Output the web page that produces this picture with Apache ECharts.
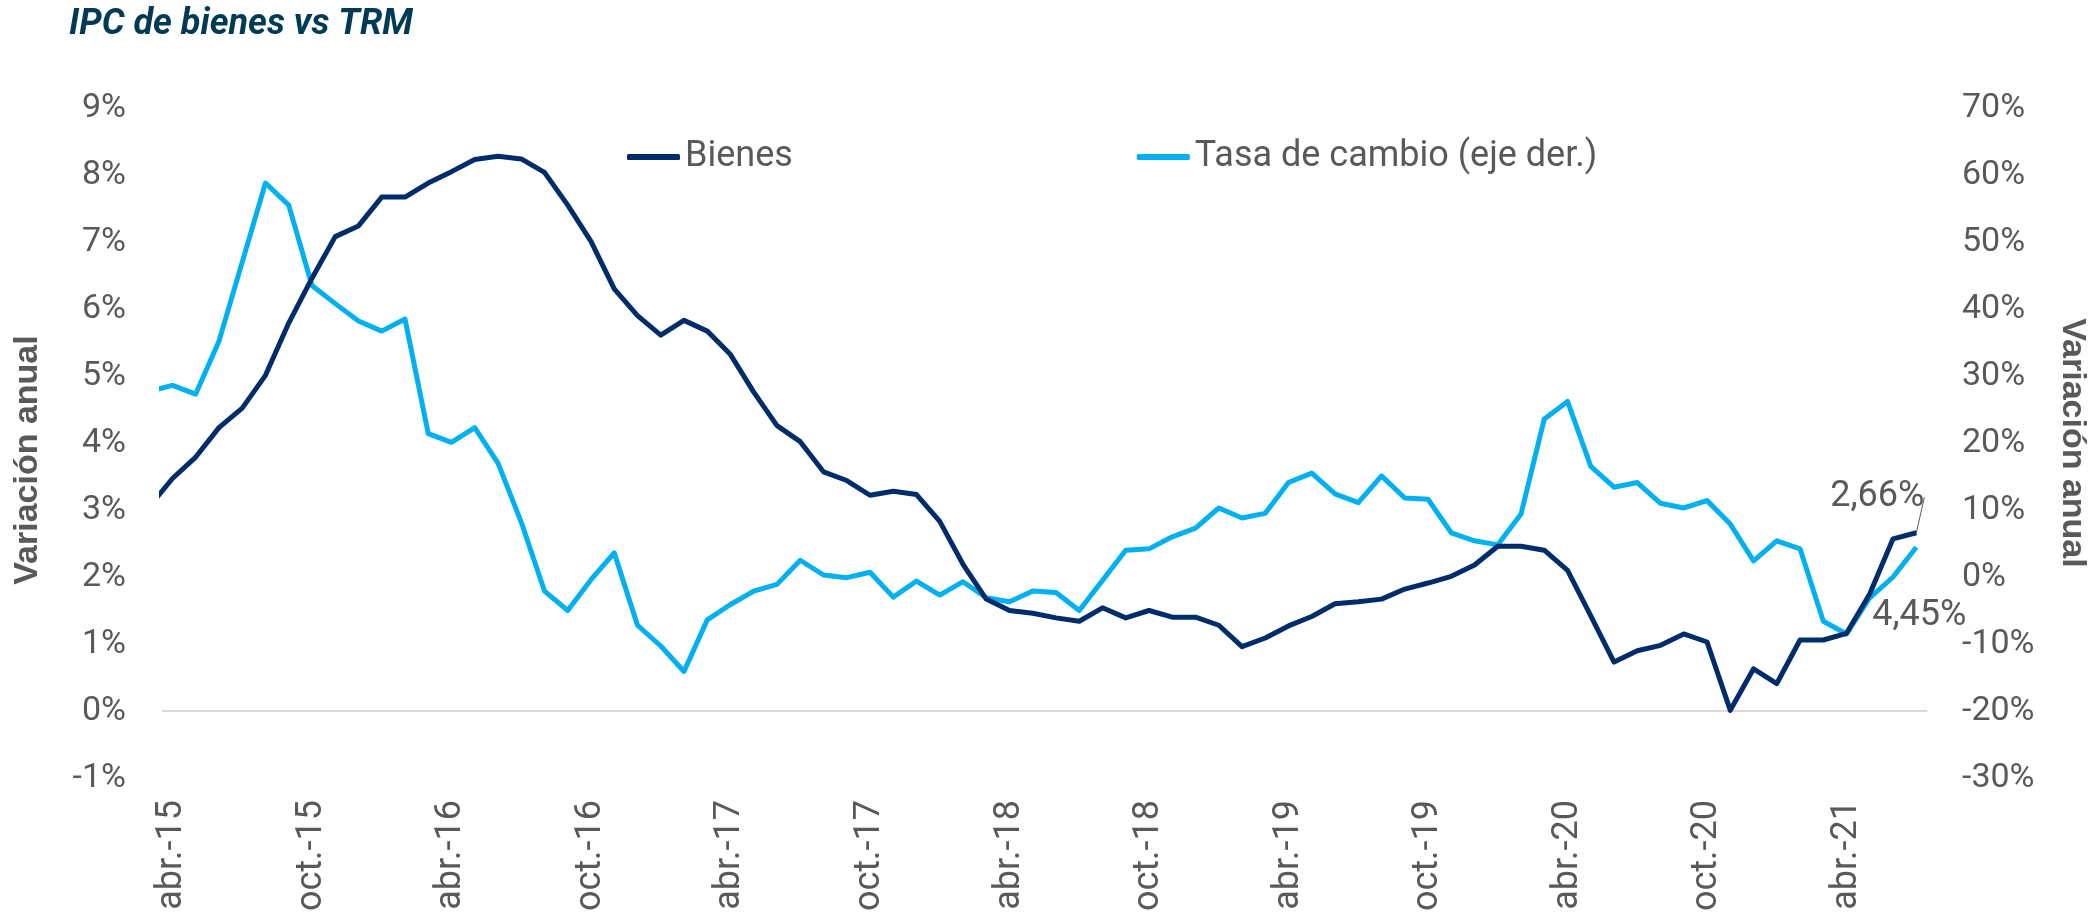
<!DOCTYPE html>
<html>
<head>
<meta charset="utf-8">
<script src="https://cdn.jsdelivr.net/npm/echarts@6/dist/echarts.min.js"></script>
<style>
  html, body { margin: 0; padding: 0; background: #ffffff; }
  #chart { width: 2100px; height: 922px; }
</style>
</head>
<body>
<div id="chart"></div>
<script>
// Months from mar.-15 (partially outside the plot) to jul.-21
const monthNames = ['ene.', 'feb.', 'mar.', 'abr.', 'may.', 'jun.', 'jul.', 'ago.', 'sep.', 'oct.', 'nov.', 'dic.'];
const categories = [];
for (let i = 0; i < 77; i++) {
  const mi = (2 + i) % 12;
  const yr = 15 + Math.floor((2 + i) / 12);
  categories.push(monthNames[mi] + '-' + yr);
}
// Indices (into categories) that carry a tick label
const tickIdx = [1, 7, 13, 19, 25, 31, 37, 43, 49, 55, 61, 67, 73];

// IPC de bienes, variación anual (%), left axis
const bienes = [
  3.05, 3.47, 3.79, 4.23, 4.52, 5.01, 5.79, 6.46, 7.08, 7.24, 7.67, 7.67, 7.88,
  8.05, 8.23, 8.28, 8.24, 8.04, 7.55, 7.01, 6.30, 5.90, 5.61, 5.83, 5.67,
  5.32, 4.76, 4.26, 4.02, 3.57, 3.44, 3.22, 3.28, 3.23, 2.83, 2.19, 1.67,
  1.50, 1.46, 1.39, 1.34, 1.54, 1.39, 1.50, 1.40, 1.40, 1.28, 0.96, 1.09,
  1.27, 1.41, 1.60, 1.63, 1.67, 1.82, 1.91, 2.01, 2.18, 2.46, 2.46, 2.40,
  2.10, 1.42, 0.73, 0.90, 0.98, 1.15, 1.03, 0.01, 0.63, 0.41, 1.06, 1.06,
  1.16, 1.75, 2.57, 2.66
];
// Tasa de cambio (TRM), variación anual (%), right axis
const trm = [
  27.7, 28.6, 27.3, 35.2, 47.0, 58.8, 55.5, 43.5, 40.8, 38.2, 36.7, 38.5, 21.4,
  20.1, 22.3, 17.0, 8.2, -2.1, -5.0, -0.4, 3.6, -7.2, -10.3, -14.1, -6.4,
  -4.1, -2.1, -1.1, 2.5, 0.3, -0.1, 0.7, -3.0, -0.6, -2.7, -0.7, -3.1,
  -3.7, -2.1, -2.3, -5.0, -0.5, 4.0, 4.2, 6.0, 7.3, 10.3, 8.8, 9.5,
  14.1, 15.5, 12.4, 11.1, 15.1, 11.8, 11.6, 6.6, 5.4, 4.8, 9.4, 23.6,
  26.2, 16.5, 13.4, 14.1, 11.0, 10.3, 11.4, 7.9, 2.4, 5.4, 4.2, -6.6,
  -8.5, -3.1, 0.0, 4.45
];
const leftTicks = { min: -1, max: 9, step: 1 };
const rightTicks = { min: -30, max: 70, step: 10 };
const lastLabels = { bienes: '2,66%', trm: '4,45%' };

const GRAY = '#595959';
const NAVY = '#002D6A';
const CYAN = '#00B0F0';

function buildData(arr, labelText, labelOpts) {
  const last = arr.length - 1;
  return arr.map((v, i) => {
    if (i !== last) return [i, v];
    return {
      value: [i, v],
      symbol: 'circle',
      symbolSize: 1,
      label: Object.assign({
        show: true,
        formatter: labelText,
        fontFamily: 'Roboto',
        fontSize: 36,
        color: GRAY
      }, labelOpts)
    };
  });
}

const chart = echarts.init(document.getElementById('chart'), null, { renderer: 'canvas' });

const nLeft = (leftTicks.max - leftTicks.min) / leftTicks.step + 1;
const splitColors = [];
for (let i = 0; i < nLeft; i++) {
  const v = leftTicks.min + i * leftTicks.step;
  splitColors.push(v === 0 ? '#D9D9D9' : 'rgba(0,0,0,0)');
}

chart.setOption({
  animation: false,
  backgroundColor: '#ffffff',
  title: {
    text: 'IPC de bienes vs TRM',
    left: 64,
    top: 2,
    textStyle: {
      fontFamily: 'Roboto',
      fontSize: 36,
      fontWeight: 'bold',
      fontStyle: 'italic',
      color: '#003A54'
    }
  },
  legend: {
    data: [
      { name: 'Bienes', icon: 'roundRect' },
      { name: 'Tasa de cambio (eje der.)', icon: 'roundRect' }
    ],
    left: 622,
    top: 134,
    itemWidth: 53,
    itemHeight: 6,
    itemGap: 344,
    textStyle: { fontFamily: 'Roboto', fontSize: 36, color: GRAY }
  },
  grid: { left: 162, right: 173, top: 108, bottom: 144 },
  xAxis: {
    type: 'value',
    min: 0.55,
    max: 76.46,
    axisLine: { show: false },
    axisTick: { show: false },
    splitLine: { show: false },
    axisLabel: {
      customValues: tickIdx,
      rotate: 90,
      margin: 22,
      fontFamily: 'Roboto',
      fontSize: 36,
      color: GRAY,
      formatter: (v) => categories[Math.round(v)]
    }
  },
  yAxis: [
    {
      type: 'value',
      position: 'left',
      min: leftTicks.min,
      max: leftTicks.max,
      interval: leftTicks.step,
      axisLine: { show: false },
      axisTick: { show: false },
      splitLine: { show: true, lineStyle: { color: splitColors, width: 2 } },
      axisLabel: {
        formatter: '{value}%',
        margin: 36,
        fontFamily: 'Roboto',
        fontSize: 34,
        color: GRAY
      },
      name: 'Variación anual',
      nameLocation: 'middle',
      nameRotate: 90,
      nameGap: 117,
      nameTextStyle: {
        fontFamily: 'Liberation Sans',
        fontWeight: 'bold',
        fontSize: 34,
        color: GRAY,
        padding: [0, 34, 0, 0]
      }
    },
    {
      type: 'value',
      position: 'right',
      min: rightTicks.min,
      max: rightTicks.max,
      interval: rightTicks.step,
      axisLine: { show: false },
      axisTick: { show: false },
      splitLine: { show: false },
      axisLabel: {
        formatter: '{value}%',
        margin: 35,
        fontFamily: 'Roboto',
        fontSize: 34,
        color: GRAY
      },
      name: 'Variación anual',
      nameLocation: 'middle',
      nameRotate: -90,
      nameGap: 128,
      nameTextStyle: {
        fontFamily: 'Liberation Sans',
        fontWeight: 'bold',
        fontSize: 34,
        color: GRAY
      }
    }
  ],
  series: [
    {
      name: 'Bienes',
      type: 'line',
      yAxisIndex: 0,
      symbol: 'none',
      showSymbol: true,
      color: NAVY,
      lineStyle: { color: NAVY, width: 5, join: 'round' },
      emphasis: { disabled: true },
      data: buildData(bienes, lastLabels.bienes, { position: 'top', distance: 17 }),
      labelLayout: { dx: -39 },
      labelLine: { show: true, lineStyle: { color: GRAY, width: 1 } },
      z: 3
    },
    {
      name: 'Tasa de cambio (eje der.)',
      type: 'line',
      yAxisIndex: 1,
      symbol: 'none',
      showSymbol: true,
      color: CYAN,
      lineStyle: { color: CYAN, width: 5, join: 'round' },
      emphasis: { disabled: true },
      data: buildData(trm, lastLabels.trm, { position: 'bottom', distance: 50, offset: [3, 0] }),
      z: 2
    }
  ]
});
</script>
</body>
</html>
